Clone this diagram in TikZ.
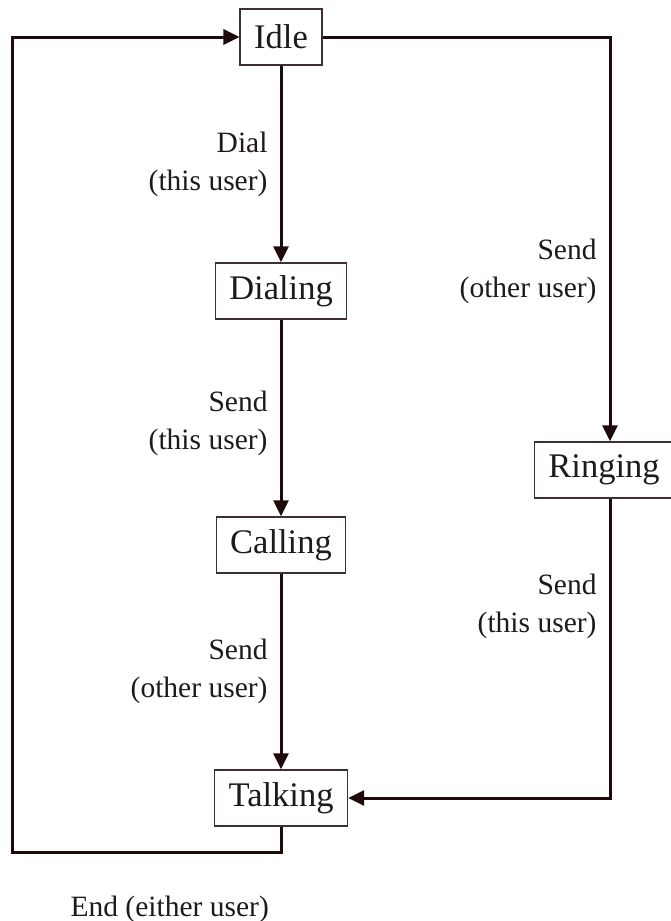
\documentclass[tikz,border=0pt]{standalone}
\usepackage{fontspec}
\setmainfont{Liberation Serif}
\usetikzlibrary{arrows.meta}
\definecolor{phInk}{HTML}{1E0A0A}
\definecolor{phEdge}{HTML}{3E3030}
\definecolor{phText}{HTML}{1F1A1A}
\tikzset{
  statebox/.style ={draw=phEdge,line width=1.4pt,fill=white,text=phText,
                    inner xsep=14pt,inner ysep=0pt,minimum height=56pt,
                    font=\fontsize{34.5}{40}\selectfont},
  flow/.style     ={-{Triangle[length=16pt,width=15pt]},phInk,line width=3pt},
  lbl/.style      ={text=phText,align=right,inner xsep=12pt,inner ysep=0pt,
                    font=\fontsize{29.5}{38}\selectfont},
}

\begin{document}
\begin{tikzpicture}[x=1pt,y=-1pt]
\useasboundingbox (0,0) rectangle (671,921);

%% states
\node[statebox] (idle)    at (281,37)  {Idle};
\node[statebox] (dialing) at (281,291) {Dialing};
\node[statebox] (calling) at (281,545) {Calling};
\node[statebox] (talking) at (281,798) {Talking};
\node[statebox] (ringing) at (604,470) {Ringing};
\coordinate (loop) at (12,852);

%% transitions
\draw[flow] (idle) -- (dialing) node[lbl,midway,left]{Dial\\(this user)};
\draw[flow] (dialing) -- (calling) node[lbl,pos=0.53,left]{Send\\(this user)};
\draw[flow] (calling) -- (talking) node[lbl,midway,left]{Send\\(other user)};
\draw[flow] (idle.east) -| ([xshift=6pt]ringing.north)
  node[lbl,pos=0.79,left]{Send\\(other user)};
\draw[flow] ([xshift=6pt]ringing.south) |- (talking.east)
  node[lbl,pos=0.18,left]{Send\\(this user)};
\draw[flow] (talking.south) |- (loop) |- (idle.west);
\node[lbl,anchor=base east] (endlbl) at (281,916) {End (either user)};
\end{tikzpicture}
\end{document}
